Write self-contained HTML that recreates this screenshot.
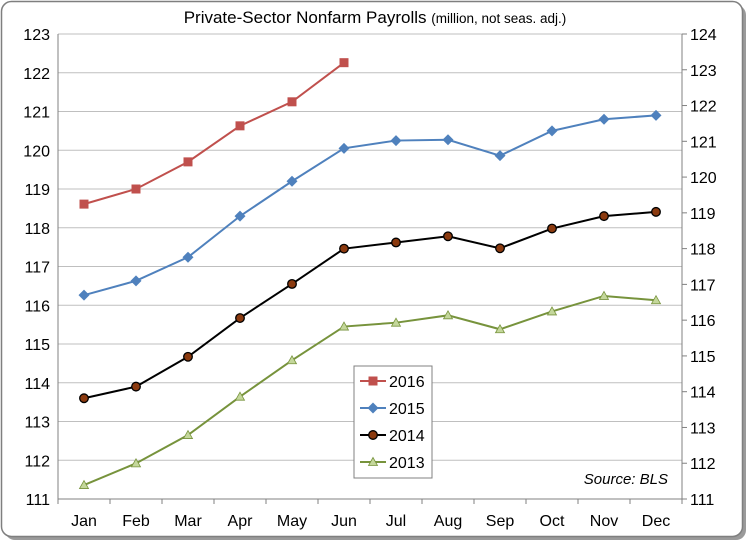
<!DOCTYPE html>
<html><head><meta charset="utf-8"><style>
body{margin:0;background:#fff;}
svg{display:block;font-family:"Liberation Sans",Arial,sans-serif;}
</style></head><body>
<svg id="chart" width="750" height="544">
<rect x="5" y="5" width="741" height="535" rx="10" fill="#9a9a9a"/>
<rect x="1.5" y="1.5" width="741" height="535" rx="10" fill="#fff" stroke="#7f7f7f" stroke-width="1.5"/>
<text x="375" y="23" text-anchor="middle" font-size="17" fill="#000">Private-Sector Nonfarm Payrolls <tspan font-size="13.5">(million, not seas. adj.)</tspan></text>
<g id="grid"></g><g id="axes"></g><g id="series"></g>
<text x="668" y="484" text-anchor="end" font-size="15" font-style="italic">Source: BLS</text>
<g id="legend"></g>
</svg>
<script>
const months=["Jan","Feb","Mar","Apr","May","Jun","Jul","Aug","Sep","Oct","Nov","Dec"];
const leftTicks=[111,112,113,114,115,116,117,118,119,120,121,122,123];
const rightTicks=[111,112,113,114,115,116,117,118,119,120,121,122,123,124];
const s2016=[118.61,119.0,119.7,120.63,121.25,122.26];
const s2015=[116.26,116.63,117.24,118.3,119.2,120.05,120.25,120.27,119.86,120.5,120.8,120.9];
const s2014=[113.6,113.9,114.67,115.67,116.55,117.46,117.62,117.78,117.47,117.98,118.3,118.41];
const s2013=[111.36,111.92,112.65,113.64,114.58,115.45,115.55,115.74,115.38,115.84,116.24,116.13];
const L=58,R=682,T=34,B=499;
const x=i=>L+(i+0.5)*(R-L)/12;
const y=v=>B-(v-111)*(B-T)/12;
const yr=v=>B-(v-111)*(B-T)/13;
const NS="http://www.w3.org/2000/svg";
function mk(t,a,p){const e=document.createElementNS(NS,t);for(const k in a)e.setAttribute(k,a[k]);p.appendChild(e);return e;}
const grid=document.getElementById('grid'),axes=document.getElementById('axes'),ser=document.getElementById('series'),leg=document.getElementById('legend');
leftTicks.forEach(v=>{
 const g=mk('line',{x1:L,x2:R,y1:y(v),y2:y(v),stroke:'#bfbfbf','stroke-width':1},grid);
 
 
 const t=mk('text',{x:L-8,y:y(v)+6,'text-anchor':'end','font-size':16},axes);t.textContent=v;
 
 
});
rightTicks.forEach(v=>{
 const t=mk('text',{x:R+8,y:yr(v)+6,'font-size':16},axes);t.textContent=v;
 
 
 mk('line',{x1:R,x2:R+5,y1:yr(v),y2:yr(v),stroke:'#808080'},axes);
});
for(let i=0;i<=12;i++)mk('line',{x1:L+i*(R-L)/12,x2:L+i*(R-L)/12,y1:B,y2:B+5,stroke:'#808080'},axes);
months.forEach((m,i)=>{const t=mk('text',{x:x(i),y:B+27,'text-anchor':'middle','font-size':16},axes);t.textContent=m;
 
 });
mk('line',{x1:L,x2:L,y1:T,y2:B,stroke:'#808080'},axes);
mk('line',{x1:R,x2:R,y1:T,y2:B,stroke:'#808080'},axes);
mk('line',{x1:L,x2:R,y1:B,y2:B,stroke:'#808080'},axes);
function marker(type,cx,cy,col,p){
 if(type==='sq')return mk('rect',{x:cx-4.5,y:cy-4.5,width:9,height:9,fill:col},p);
 if(type==='dia')return mk('polygon',{points:`${cx},${cy-5.5} ${cx+5.5},${cy} ${cx},${cy+5.5} ${cx-5.5},${cy}`,fill:col},p);
 if(type==='circ')return mk('circle',{cx,cy,r:4.3,fill:'#8b3a0f',stroke:'#000','stroke-width':1.3},p);
 return mk('polygon',{points:`${cx},${cy-4.5} ${cx+4.5},${cy+3.5} ${cx-4.5},${cy+3.5}`,fill:'#c4d79b',stroke:'#77933c','stroke-width':0.8},p);
}
const defs=[["2016",s2016,'#c0504d','sq'],["2015",s2015,'#4f81bd','dia'],["2014",s2014,'#000','circ'],["2013",s2013,'#77933c','tri']];
defs.forEach(([name,arr,col,m])=>{
 const g=mk('g',{},ser);
 
 
 mk('polyline',{points:arr.map((v,i)=>x(i)+','+y(v)).join(' '),fill:'none',stroke:col,'stroke-width':2},g);
 arr.forEach((v,i)=>{const e=marker(m,x(i),y(v),col,g);
  
  });
});
const lb=mk('rect',{x:354,y:366,width:78,height:112,fill:'#fff',stroke:'#808080'},leg);


defs.forEach(([name,arr,col,m],k)=>{
 const cy=381+k*27;
 const g=mk('g',{},leg);
 
 
 mk('line',{x1:360,x2:386,y1:cy,y2:cy,stroke:col,'stroke-width':2},g);
 marker(m,373,cy,col,g);
 const t=mk('text',{x:389,y:cy+6,'font-size':16},g);t.textContent=name;
});
</script>
</body></html>
